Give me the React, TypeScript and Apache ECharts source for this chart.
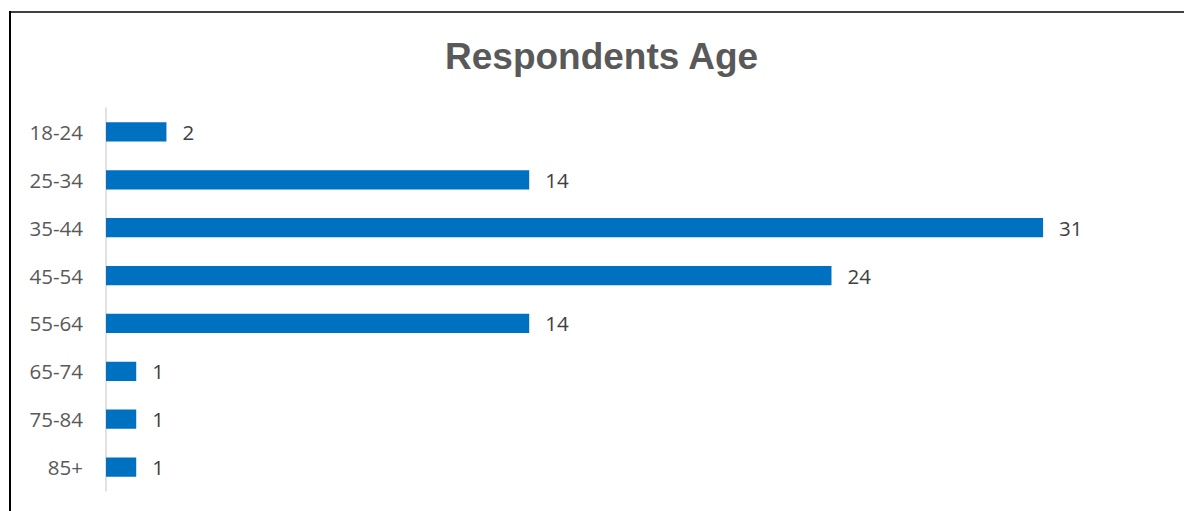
import React, { useEffect, useRef } from "react";
import * as echarts from "echarts";

const categories = ["18-24", "25-34", "35-44", "45-54", "55-64", "65-74", "75-84", "85+"];
const counts = [2, 14, 31, 24, 14, 1, 1, 1];
const titleText = "Respondents Age";

export default function App() {
  const ref = useRef<HTMLDivElement>(null);
  useEffect(() => {
    if (!ref.current) return;
    const chart = echarts.init(ref.current, null, { renderer: "svg" });
    chart.setOption({
      animation: false,
      backgroundColor: "#ffffff",
      title: {
        text: titleText,
        left: 440,
        top: 33,
        textStyle: {
          fontFamily: "Liberation Sans, Arial, sans-serif",
          fontWeight: "bold",
          fontSize: 37,
          color: "#595959",
        },
      },
      graphic: [
        { type: "line", shape: { x1: 10, y1: 11, x2: 10, y2: 520 }, style: { stroke: "#000", lineWidth: 2 } },
        { type: "line", shape: { x1: 9, y1: 12, x2: 1200, y2: 12 }, style: { stroke: "#000", lineWidth: 1.5 } },
      ],
      grid: { left: 106, right: 20, top: 108, bottom: 20, containLabel: false },
      xAxis: { type: "value", min: 0, max: 35, show: false },
      yAxis: {
        type: "category",
        inverse: true,
        data: categories,
        axisLine: { show: true, lineStyle: { color: "#d9d9d9", width: 1.5 } },
        axisTick: { show: false },
        axisLabel: {
          margin: 23,
          fontSize: 20.5,
          fontFamily: "Open Sans, sans-serif",
          color: "#595959",
        },
      },
      series: [
        {
          type: "bar",
          data: counts,
          barWidth: "40%",
          itemStyle: { color: "#0070C0" },
          label: {
            show: true,
            position: "right",
            distance: 16,
            fontSize: 20.5,
            fontFamily: "Open Sans, sans-serif",
            color: "#404040",
          },
        },
      ],
    });
    return () => chart.dispose();
  }, []);
  return (
    <div
      ref={ref}
      style={{ position: "absolute", left: 0, top: 0, width: 1184, height: 511 }}
    />
  );
}
